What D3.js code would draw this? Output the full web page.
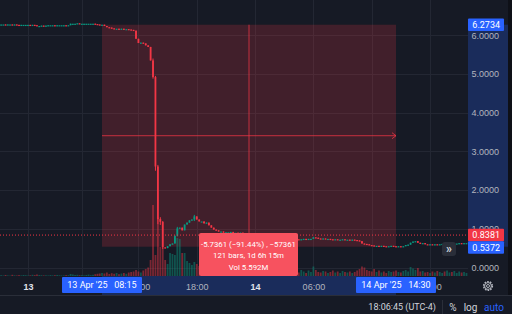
<!DOCTYPE html>
<html><head><meta charset="utf-8">
<script src="https://cdn.jsdelivr.net/npm/d3@7"></script>
<style>
html,body{margin:0;padding:0;background:#161a25;overflow:hidden}
svg{display:block;font-family:Roboto,"Noto Sans",sans-serif}
</style></head><body><svg id="c" width="512" height="314"></svg>
<script>
// ---------- data ----------
const firstBar = "2025-04-12T21:00";
const barMinutes = 15;
const closes = [
 6.28,6.28,6.27,6.28,6.28,6.27,6.28, 6.27,6.26,6.27,6.27, 6.27,6.27,6.26,6.27,6.26, 6.24,6.24,6.25,6.24,
 6.25,6.26,6.26,6.26,6.25,6.26,6.26,6.26,6.26,6.25,6.26, 6.30,
 6.30,6.30,6.31,6.30,6.30,6.30,6.30,6.30,6.30,6.30,6.29, 6.28,6.27,
 6.2734,
 6.24,6.21,6.20,6.18,6.17,6.17,6.16,6.17,6.16,6.16,6.15,6.14,6.12,
 5.91,5.80,5.81,5.79,5.74,5.70,5.35,4.92,2.61,1.25,1.18,
 0.52,0.50,0.55,0.60,0.62,0.82,1.01,1.03,0.96,1.11,1.16,1.22,1.24,1.32,1.24,1.19,1.19,1.14,1.16,1.09,
 1.03,0.98,0.96,0.93,0.93,0.90,0.91,0.91,0.92,0.90,0.90,0.89,0.90,
 0.86,0.84,0.82,0.80,0.78,0.77,0.76,
 0.75,0.74,0.76,0.74,0.73,0.74,0.72,0.73,0.72,0.73,
 0.72,0.71,0.72,0.71,
 0.74,0.73,0.72,0.73,0.74,0.73,0.74,0.74,
 0.78,0.77,0.75,0.74,0.75,0.74,0.74,0.73,
 0.72,0.73,0.72,0.72,0.73,0.72,0.72,0.71,0.72,0.71,0.70,0.68,
 0.62,0.61,0.60,0.58,0.57,0.56,0.56,0.55,0.56,0.55,0.54,0.55,0.56,0.55,
 0.5372,
 0.55,0.54,0.55,0.58,0.59,0.64,0.67,0.68,0.64,0.62,0.63,0.60,0.59,
 0.60,0.59,0.60,0.59,0.60,0.61,0.60,0.61,0.62,0.61,0.62,0.62,0.63,0.62,0.63,0.63
];
const volumes = [ // thousands
 8,5,10,6,4,12,7,5,9,6,10,8,5,7,12,9,15,10,8,6,7,5,9,6,8,10,7,5,6,9,8,20,15,10,12,8,9,6,10,14,8,12,18,22,25,
 30,25,35,20,28,22,30,18,25,30,22,35,40,45,
 60,45,35,55,70,85,160,710,210,580,290,
 280,160,120,230,220,210,380,370,230,230,150,130,110,140,120,100,90,110,80,90,
 80,70,90,60,70,65,55,60,70,50,55,45,60,50,45,55,40,50,45,40,35,45,40,35,50,40,35,45,30,40,35,30,40,35,
 50,40,35,60,45,30,55,40,95,60,40,35,50,45,30,40,55,35,45,30,50,40,35,45,30,40,55,70,
 95,85,60,50,45,70,40,55,35,45,30,50,40,45,
 55,40,35,50,60,45,90,75,60,80,45,50,35,40,
 30,45,35,50,40,30,45,55,35,40,50,30,45,35,40,30
];
const wicks = [ // [bar, high, low]
 [66,5.40,4.88],[67,4.95,2.50],[68,2.65,1.12],[69,1.30,1.10],[70,1.20,0.48],[76,1.05,0.80],[83,1.36,1.20]
];
const priceTicks = [0,1,2,3,4,5,6];
const timeTicks = ["2025-04-13T00:00","2025-04-13T06:00","2025-04-13T12:00","2025-04-13T18:00",
                   "2025-04-14T00:00","2025-04-14T06:00","2025-04-14T12:00","2025-04-14T18:00"];
// tick labels that stay visible next to the measurement time boxes
const timeTickLabels = ["2025-04-13T00:00","2025-04-13T12:00","2025-04-13T18:00",
                        "2025-04-14T00:00","2025-04-14T06:00","2025-04-14T18:00"];
const measureStart = {time:"2025-04-13T08:15", price:6.2734, label:"13 Apr '25", clock:"08:15"};
const measureEnd   = {time:"2025-04-14T14:30", price:0.5372, label:"14 Apr '25", clock:"14:30"};
const lastPrice = 0.8381;
const measureLines = ["-5.7361 (\u221291.44%) , \u221257361", "121 bars, 1d 6h 15m", "Vol 5.592M"];
const clockText = "18:06:45 (UTC-4)";

// ---------- setup ----------
const parse = d3.timeParse("%Y-%m-%dT%H:%M");
const t0 = parse(firstBar);
const bars = closes.map((c,i)=>{
  const open = i===0 ? c : closes[i-1];
  return {time:d3.timeMinute.offset(t0, i*barMinutes), open, close:c,
          high:Math.max(open,c), low:Math.min(open,c), vol:volumes[i]};
});
wicks.forEach(([i,h,l])=>{bars[i].high=h;bars[i].low=l;});

const plotR = 468, plotB = 276;
const x = d3.scaleTime()
  .domain([parse("2025-04-13T00:00"), parse(measureStart.time), parse(measureEnd.time)])
  .range([28, 102, 396]);
const y = d3.scaleLinear().domain([0,6]).range([267.5,35.3]);
const yv = d3.scaleLinear().domain([0,800]).range([plotB, plotB-80]);

const UP="#089981", DN="#f23645", BG="#161a25", TXT="#b2b5be", BLUE="#2962ff";
const svg = d3.select("#c");
svg.append("rect").attr("width",512).attr("height",314).attr("fill",BG);
svg.append("clipPath").attr("id","pc").append("rect").attr("width",plotR).attr("height",plotB);
const plot = svg.append("g").attr("clip-path","url(#pc)");

// grid
plot.selectAll(".hg").data(priceTicks).join("line")
  .attr("x1",0).attr("x2",plotR).attr("y1",d=>Math.round(y(d))+0.5).attr("y2",d=>Math.round(y(d))+0.5)
  .attr("stroke","#232733");
plot.selectAll(".vg").data(timeTicks).join("line")
  .attr("y1",0).attr("y2",plotB).attr("x1",d=>Math.round(x(parse(d)))+0.5).attr("x2",d=>Math.round(x(parse(d)))+0.5)
  .attr("stroke","#232733");

// measurement box
const mx0 = x(parse(measureStart.time)), mx1 = x(parse(measureEnd.time));
const my0 = y(measureStart.price), my1 = y(measureEnd.price);
plot.append("rect").attr("x",mx0).attr("y",my0).attr("width",mx1-mx0).attr("height",my1-my0)
  .attr("fill","rgba(242,54,69,0.2)");

// volume
const bw = 1.8;
plot.selectAll(".v").data(bars).join("rect")
  .attr("x",d=>x(d.time)-bw/2).attr("width",bw)
  .attr("y",d=>yv(d.vol)).attr("height",d=>plotB-yv(d.vol))
  .attr("fill",d=>d.close>=d.open?"rgba(8,153,129,0.45)":"rgba(242,54,69,0.45)");

// candles
const cg = plot.append("g");
cg.selectAll("line").data(bars).join("line")
  .attr("x1",d=>x(d.time)).attr("x2",d=>x(d.time))
  .attr("y1",d=>y(d.high)).attr("y2",d=>y(d.low))
  .attr("stroke",d=>d.close>=d.open?UP:DN).attr("stroke-width",1);
cg.selectAll("rect").data(bars).join("rect")
  .attr("x",d=>x(d.time)-bw/2).attr("width",bw)
  .attr("y",d=>Math.min(y(d.open),y(d.close)))
  .attr("height",d=>Math.max(1.2,Math.abs(y(d.open)-y(d.close))))
  .attr("fill",d=>d.close>=d.open?UP:DN);

// measure lines
const mxm=(mx0+mx1)/2, mym=(my0+my1)/2;
const ml = plot.append("g").attr("stroke","rgba(242,54,69,0.75)").attr("fill","none").attr("stroke-width",1);
ml.append("line").attr("x1",mxm).attr("x2",mxm).attr("y1",my0).attr("y2",my1);
ml.append("line").attr("x1",mx0).attr("x2",mx1).attr("y1",mym).attr("y2",mym);
ml.append("path").attr("d",`M${mx1-4},${mym-3}L${mx1},${mym}L${mx1-4},${mym+3}`);
ml.append("path").attr("d",`M${mxm-3},${my1-4}L${mxm},${my1}L${mxm+3},${my1-4}`);

// last price dotted line
plot.append("line").attr("x1",0).attr("x2",plotR).attr("y1",y(lastPrice)).attr("y2",y(lastPrice))
  .attr("stroke",DN).attr("stroke-dasharray","1,2").attr("stroke-width",1);

// tooltip
const tip = svg.append("g");
tip.append("rect").attr("x",mxm-50).attr("y",233).attr("width",99).attr("height",43).attr("rx",2).attr("fill","#f7525f");
tip.selectAll("text").data(measureLines).join("text")
  .attr("x",mxm-0.5).attr("y",(d,i)=>244+i*11.5).attr("dy","0.35em").attr("text-anchor","middle")
  .attr("fill","#fff").attr("font-size",7.8).text(d=>d);

// scroll button
svg.append("rect").attr("x",442).attr("y",242).attr("width",14).attr("height",14).attr("rx",3).attr("fill","#2a2e39");
svg.append("text").attr("x",449).attr("y",249).attr("dy","0.35em").attr("text-anchor","middle")
  .attr("fill","#d1d4dc").attr("font-size",12).attr("font-weight","bold").text("\u00bb");

// price axis
svg.append("rect").attr("x",plotR).attr("y",my0).attr("width",40).attr("height",my1-my0).attr("fill","rgba(41,98,255,0.25)");
svg.append("rect").attr("x",508).attr("y",0).attr("width",4).attr("height",296).attr("fill","#0e1017");
const pa = svg.append("g").attr("transform",`translate(${plotR},0)`)
  .call(d3.axisRight(y).tickValues(priceTicks).tickFormat(d3.format(".4f")).tickSize(0));
pa.select(".domain").remove();
pa.selectAll("text").attr("x",31).attr("text-anchor","end").attr("fill",TXT).attr("font-size",9).attr("font-family",null);

function priceLabel(v, color){
  const g = svg.append("g");
  g.append("rect").attr("x",468).attr("y",y(v)-6.2).attr("width",36).attr("height",12.4).attr("rx",1).attr("fill",color);
  g.append("text").attr("x",500).attr("y",y(v)).attr("dy","0.35em").attr("text-anchor","end")
    .attr("fill","#fff").attr("font-size",9).text(d3.format(".4f")(v));
  return g;
}
priceLabel(measureStart.price, BLUE);
priceLabel(lastPrice, DN);
priceLabel(measureEnd.price, BLUE).attr("transform",`translate(0,${(y(lastPrice)+12.4)-y(measureEnd.price)})`);

// time axis
svg.append("rect").attr("x",mx0).attr("y",plotB).attr("width",mx1-mx0).attr("height",19).attr("fill","rgba(41,98,255,0.25)");
const ta = svg.append("g").attr("transform",`translate(0,${plotB})`)
  .call(d3.axisBottom(x).tickValues(timeTickLabels.map(parse)).tickSize(0)
    .tickFormat(d=>d.getHours()===0 ? d3.timeFormat("%-d")(d) : d3.timeFormat("%H:%M")(d)));
ta.select(".domain").remove();
ta.selectAll("text").attr("y",10.5).attr("dy","0.35em").attr("font-family",null).attr("font-size",9)
  .attr("fill",d=>d.getHours()===0?"#e0e3eb":TXT).attr("font-weight",d=>d.getHours()===0?"bold":null);

function timeLabel(m){
  const cx = x(parse(m.time));
  const g = svg.append("g");
  g.append("rect").attr("x",cx-40).attr("y",277).attr("width",80).attr("height",16).attr("rx",1).attr("fill",BLUE);
  const t = g.append("text").attr("x",cx).attr("y",285).attr("dy","0.35em").attr("text-anchor","middle")
    .attr("fill","#fff").attr("font-size",9).attr("xml:space","preserve");
  t.text(m.label+"   "+m.clock);
}
timeLabel(measureStart); timeLabel(measureEnd);

// gear
const gear = svg.append("g").attr("transform","translate(488,286)").attr("fill","none").attr("stroke",TXT);
gear.append("circle").attr("r",4.3).attr("stroke-width",1.6).attr("stroke-dasharray","1.6,1.1");
gear.append("circle").attr("r",3.4).attr("stroke-width",1);
gear.append("circle").attr("r",1.5).attr("stroke-width",1);

// bottom bar
svg.append("line").attr("x1",0).attr("x2",512).attr("y1",295.5).attr("y2",295.5).attr("stroke","#2a2e39");
svg.append("line").attr("x1",442.5).attr("x2",442.5).attr("y1",300).attr("y2",314).attr("stroke","#2a2e39");
svg.append("text").attr("x",436).attr("y",307).attr("dy","0.35em").attr("text-anchor","end")
  .attr("fill","#d1d4dc").attr("font-size",9).text(clockText);
[["%",453,"#d1d4dc"],["log",470.5,"#d1d4dc"],["auto",494,BLUE]].forEach(([s,cx,c])=>{
  svg.append("text").attr("x",cx).attr("y",307).attr("dy","0.35em").attr("text-anchor","middle")
    .attr("fill",c).attr("font-size",10).text(s);
});
</script></body></html>
